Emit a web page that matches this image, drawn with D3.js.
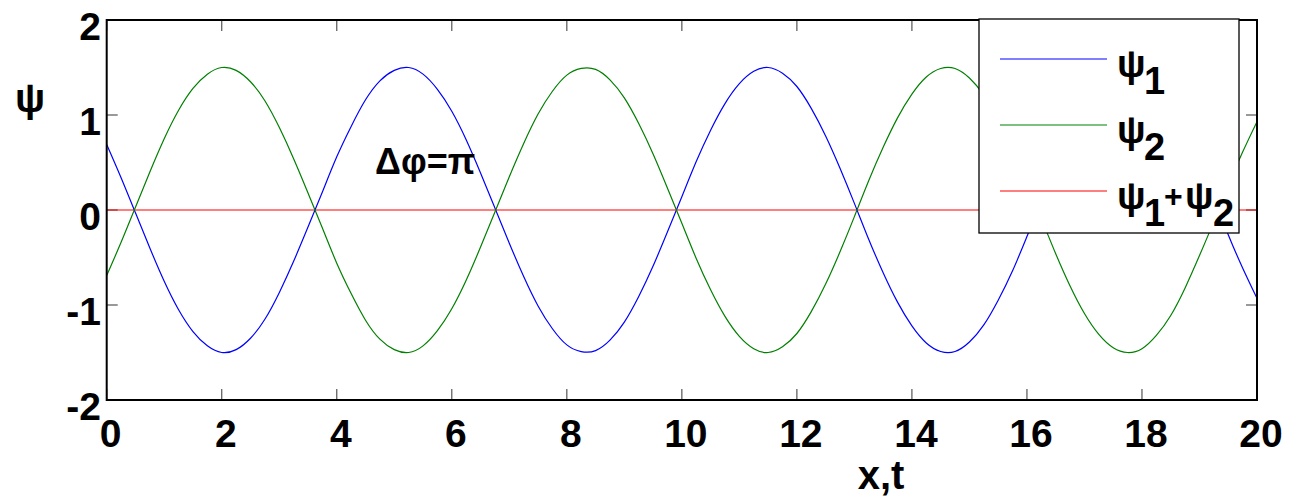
<!DOCTYPE html>
<html><head><meta charset="utf-8">
<script src="https://cdn.jsdelivr.net/npm/d3@7"></script>
<style>
html,body{margin:0;padding:0;background:#fff;}
svg{display:block;font-family:"Liberation Sans",Arial,Helvetica,sans-serif;font-weight:bold;}
</style>
</head><body>
<svg id="chart" width="1290" height="499"></svg>
<script>
// ---- data ----
const xSamples = [0,0.25,0.5,0.75,1,1.25,1.5,1.75,2,2.25,2.5,2.75,3,3.25,3.5,3.75,4,4.25,4.5,4.75,
  5,5.25,5.5,5.75,6,6.25,6.5,6.75,7,7.25,7.5,7.75,8,8.25,8.5,8.75,9,9.25,9.5,9.75,
  10,10.25,10.5,10.75,11,11.25,11.5,11.75,12,12.25,12.5,12.75,13,13.25,13.5,13.75,14,14.25,14.5,14.75,
  15,15.25,15.5,15.75,16,16.25,16.5,16.75,17,17.25,17.5,17.75,18,18.25,18.5,18.75,19,19.25,19.5,19.75,20];
const psi1 = [0.69,0.34,-0.03,-0.40,-0.75,-1.05,-1.28,-1.43,-1.50,-1.47,-1.35,-1.15,-0.87,-0.54,-0.18,0.19,0.56,0.88,1.16,1.36,
  1.47,1.50,1.43,1.27,1.04,0.74,0.39,0.02,-0.35,-0.70,-1.01,-1.25,-1.42,-1.49,-1.48,-1.37,-1.18,-0.91,-0.59,-0.23,
  0.14,0.51,0.84,1.12,1.33,1.46,1.50,1.44,1.30,1.07,0.78,0.44,0.07,-0.31,-0.66,-0.97,-1.22,-1.40,-1.49,-1.49,
  -1.39,-1.21,-0.95,-0.64,-0.28,0.09,0.46,0.80,1.09,1.31,1.45,1.50,1.46,1.32,1.11,0.82,0.48,0.12,-0.26,-0.61,-0.93];
const psi2 = [-0.69,-0.34,0.03,0.40,0.75,1.05,1.28,1.43,1.50,1.47,1.35,1.15,0.87,0.54,0.18,-0.19,-0.56,-0.88,-1.16,-1.36,
  -1.47,-1.50,-1.43,-1.27,-1.04,-0.74,-0.39,-0.02,0.35,0.70,1.01,1.25,1.42,1.49,1.48,1.37,1.18,0.91,0.59,0.23,
  -0.14,-0.51,-0.84,-1.12,-1.33,-1.46,-1.50,-1.44,-1.30,-1.07,-0.78,-0.44,-0.07,0.31,0.66,0.97,1.22,1.40,1.49,1.49,
  1.39,1.21,0.95,0.64,0.28,-0.09,-0.46,-0.80,-1.09,-1.31,-1.45,-1.50,-1.46,-1.32,-1.11,-0.82,-0.48,-0.12,0.26,0.61,0.93];
const psiSum = [0,0,0,0,0,0,0,0,0,0,0,0,0,0,0,0,0,0,0,0,
  0,0,0,0,0,0,0,0,0,0,0,0,0,0,0,0,0,0,0,0,
  0,0,0,0,0,0,0,0,0,0,0,0,0,0,0,0,0,0,0,0,
  0,0,0,0,0,0,0,0,0,0,0,0,0,0,0,0,0,0,0,0,0];
const xTicks = [0,2,4,6,8,10,12,14,16,18,20];
const yTicks = [-2,-1,0,1,2];
const seriesNames = ["ψ1","ψ2","ψ1+ψ2"];
const seriesColors = ["#0000ff","#008000","#ff0000"];
const xLabel = "x,t";
const yLabel = "ψ";
const annotation = "Δφ=π";

// ---- layout ----
const svg = d3.select("#chart");
const L = 106.7, R = 1257, T = 20, B = 400;
const x = d3.scaleLinear().domain([0,20]).range([L,R]);
const y = d3.scaleLinear().domain([-2,2]).range([B,T]);
const tickLen = 11;

// ticks (inward, all four sides)
const tk = svg.append("g").attr("stroke","#555").attr("stroke-width",1.2);
xTicks.forEach(v=>{
  tk.append("line").attr("x1",x(v)).attr("x2",x(v)).attr("y1",B).attr("y2",B-tickLen);
  tk.append("line").attr("x1",x(v)).attr("x2",x(v)).attr("y1",T).attr("y2",T+tickLen);
});
yTicks.forEach(v=>{
  tk.append("line").attr("y1",y(v)).attr("y2",y(v)).attr("x1",L).attr("x2",L+tickLen);
  tk.append("line").attr("y1",y(v)).attr("y2",y(v)).attr("x1",R).attr("x2",R-tickLen);
});

// series
svg.append("clipPath").attr("id","clip").append("rect")
  .attr("x",L).attr("y",T).attr("width",R-L).attr("height",B-T);
const series = [psi1, psi2, psiSum];
const line = d3.line().x(d=>x(d[0])).y(d=>y(d[1])).curve(d3.curveNatural);
const gl = svg.append("g").attr("clip-path","url(#clip)");
[2,0,1].forEach(i=>{
  gl.append("path")
    .datum(xSamples.map((xv,j)=>[xv, series[i][j]]))
    .attr("d", line).attr("fill","none")
    .attr("stroke", seriesColors[i]).attr("stroke-width",1.2);
});

// frame
svg.append("rect").attr("x",L).attr("y",T).attr("width",R-L).attr("height",B-T)
  .attr("fill","none").attr("stroke","#000").attr("stroke-width",2);

// tick labels
const fs = 39;
svg.append("g").selectAll("text").data(xTicks).join("text")
  .attr("x",d=>x(d)+4).attr("y",447).attr("text-anchor","middle")
  .attr("font-size",fs).attr("fill","#000").text(d=>d);
svg.append("g").selectAll("text").data(yTicks).join("text")
  .attr("x",101).attr("y",d=>y(d)+19.5).attr("text-anchor","end")
  .attr("font-size",fs).attr("fill","#000").text(d=>d);

// axis labels
svg.append("text").attr("x",881).attr("y",489).attr("text-anchor","middle")
  .attr("font-size",40).attr("fill","#000").text(xLabel);
svg.append("text").attr("x",30).attr("y",112).attr("text-anchor","middle")
  .attr("font-size",40).attr("fill","#000").text(yLabel);

// annotation
svg.append("text").attr("x",375).attr("y",174)
  .attr("font-size",36).attr("fill","#000").text(annotation);

// legend
const lg = svg.append("g");
lg.append("rect").attr("x",979).attr("y",19).attr("width",260).attr("height",214)
  .attr("fill","#fff").attr("stroke","#000").attr("stroke-width",1.3);
const rowY = [59,125,191];
const legendParts = [
  [["ψ",0,"m"],["1",27,"s"]],
  [["ψ",0,"m"],["2",27,"s"]],
  [["ψ",0,"m"],["1",27,"s"],["+",47,"p"],["ψ",68,"m"],["2",96,"s"]]
];
const partY = {m:18, s:35, p:16};
const partSize = {m:38, s:38, p:32};
seriesNames.forEach((name,i)=>{
  lg.append("line").attr("x1",1000).attr("x2",1107).attr("y1",rowY[i]).attr("y2",rowY[i])
    .attr("stroke",seriesColors[i]).attr("stroke-width",1.2);
  const t = lg.append("text").attr("fill","#000").attr("aria-label",name);
  legendParts[i].forEach(p=>{
    t.append("tspan").attr("x",1117+p[1])
      .attr("y", rowY[i]+partY[p[2]])
      .attr("font-size", partSize[p[2]]).text(p[0]);
  });
});
</script>
</body></html>
